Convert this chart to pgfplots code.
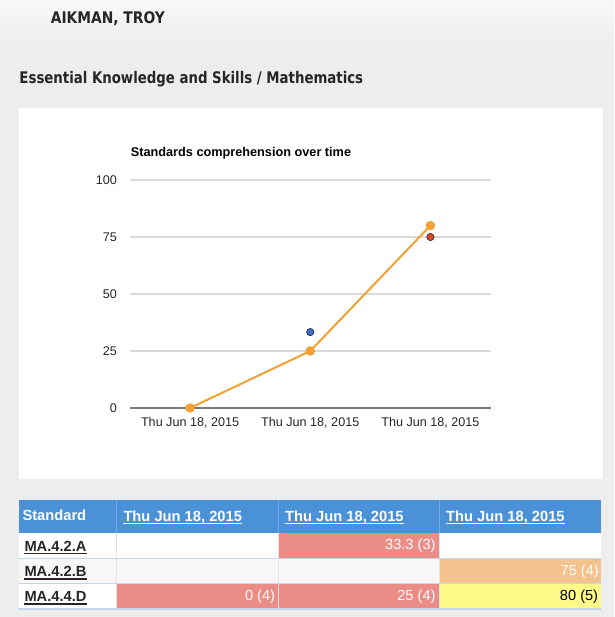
\documentclass[border=0pt]{standalone}
\usepackage{fontspec}
\setmainfont{Liberation Sans}
\newfontfamily\hdfont{DejaVu Sans Condensed}
\usepackage{pgfplots}
\pgfplotsset{compat=1.18}
\definecolor{pagebg}{HTML}{EDEDED}
\definecolor{pagetop}{HTML}{F9F9F9}
\definecolor{hdtext}{HTML}{262626}
\definecolor{gridc}{HTML}{DADADA}
\definecolor{zeroc}{HTML}{7A7A7A}
\definecolor{labc}{HTML}{262626}
\definecolor{sblue}{HTML}{3B6FCF}
\definecolor{sred}{HTML}{D4472A}
\definecolor{sorange}{HTML}{F2A134}
\definecolor{thead}{HTML}{4A91D8}
\definecolor{theadsep}{HTML}{73AAE6}
\definecolor{rowsep}{HTML}{C4D7EC}
\definecolor{rowalt}{HTML}{F7F7F7}
\definecolor{csalmon}{HTML}{EB8C87}
\definecolor{ctan}{HTML}{F4C38D}
\definecolor{cyellow}{HTML}{FFFB8A}
\definecolor{cellsep}{HTML}{E6E6E6}
\begin{document}
\begin{tikzpicture}[x=1pt,y=1pt]
% page background
\fill[pagebg] (0,0) rectangle (614,-617);
\shade[top color=pagetop, bottom color=pagebg] (0,0) rectangle (614,-45);
\useasboundingbox (0,0) rectangle (614,-617);
% page headings
\node[anchor=base west, inner sep=0, text=hdtext, xscale=0.96, font=\hdfont\bfseries\fontsize{16}{19}\selectfont] at (50.7,-24) {AIKMAN, TROY};
\node[anchor=base west, inner sep=0, text=hdtext, xscale=0.925, font=\hdfont\bfseries\fontsize{16}{19}\selectfont] at (19.3,-83.3) {Essential Knowledge and Skills / Mathematics};
% white chart panel
\fill[white] (19,-107.7) rectangle (602.7,-479);
\node[anchor=base west, inner sep=0, font=\bfseries\fontsize{12.7}{15}\selectfont] at (130.7,-157) {Standards comprehension over time};
\begin{axis}[
  at={(130pt,-408pt)}, anchor=south west,
  scale only axis, width=360.5pt, height=228pt,
  xmin=-0.5, xmax=2.5, ymin=0, ymax=100,
  axis line style={draw=none},
  major tick length=0pt,
  xtick={0,1,2},
  xticklabels={{Thu Jun 18, 2015},{Thu Jun 18, 2015},{Thu Jun 18, 2015}},
  ytick={25,50,75,100},
  extra y ticks={0},
  extra y tick style={major grid style={draw=zeroc, line width=1.3pt}},
  ymajorgrids,
  major grid style={draw=gridc, line width=1.1pt},
  /pgf/number format/assume math mode=true,
  ticklabel style={font=\fontsize{12.6}{15}\selectfont, text=labc},
  yticklabel style={inner sep=0pt, anchor=east, xshift=-13pt},
  xticklabel style={inner sep=0pt, anchor=north, yshift=-9.5pt},
  clip=false,
]
\addplot[only marks, mark=*, mark size=3.7pt, mark options={fill=sblue, draw=none}] coordinates {(1,33.3)};
\addplot[only marks, mark=*, mark size=3.7pt, mark options={fill=sred, draw=none}] coordinates {(2,75)};
\addplot[sorange, line width=2pt, mark=*, mark size=3.7pt, mark options={fill=sorange, draw=none}] coordinates {(0,0) (1,25) (2,80)};
\end{axis}
% table
\fill[thead] (19,-500) rectangle (601.3,-532.7);
\foreach \xx in {116.7,278.3,439.3} \draw[theadsep, line width=1pt] (\xx,-500) -- (\xx,-532.7);
\fill[white] (19,-532.7) rectangle (601.3,-558.3);
\fill[rowalt] (19,-558.3) rectangle (601.3,-583.3);
\fill[white] (19,-583.3) rectangle (601.3,-609);
\foreach \xx in {116.7,278.3,439.3} \draw[cellsep, line width=0.8pt] (\xx,-532.7) -- (\xx,-609);
% coloured cells
\fill[csalmon] (278.8,-533.2) rectangle (438.8,-557.6);
\fill[ctan] (439.8,-558.9) rectangle (601.3,-582.6);
\fill[csalmon] (117.2,-583.9) rectangle (277.8,-608.4);
\fill[csalmon] (278.8,-583.9) rectangle (438.8,-608.4);
\fill[cyellow] (439.8,-583.9) rectangle (601.3,-608.4);
\foreach \yy in {558.3,583.3,609} \draw[rowsep, line width=1.3pt] (19,-\yy) -- (601.3,-\yy);
% header texts
\tikzset{th/.style={anchor=base west, inner sep=0, text=white, font=\bfseries\fontsize{14.7}{17}\selectfont}}
\node[th] at (22.3,-520.5) {Standard};
\node[th] (h1) at (123.3,-521) {Thu Jun 18, 2015};
\node[th] (h2) at (285,-521) {Thu Jun 18, 2015};
\node[th] (h3) at (446,-521) {Thu Jun 18, 2015};
\foreach \h in {h1,h2,h3} \draw[white, line width=1.2pt] ([yshift=-2.2pt]\h.base west) -- ([yshift=-2.2pt]\h.base east);
% row labels
\tikzset{rl/.style={anchor=base west, inner sep=0, text=black!85, font=\bfseries\fontsize{14.7}{17}\selectfont}}
\node[rl] (r1) at (24.3,-551) {MA.4.2.A};
\node[rl] (r2) at (24.3,-576.7) {MA.4.2.B};
\node[rl] (r3) at (24.3,-601.7) {MA.4.4.D};
\foreach \r in {r1,r2,r3} \draw[black!85, line width=1.2pt] ([yshift=-2.2pt]\r.base west) -- ([yshift=-2.2pt]\r.base east);
% values
\tikzset{cv/.style={anchor=base east, inner sep=0, font=\fontsize{14.6}{17}\selectfont}}
\node[cv, text=white] at (435.7,-549.5) {33.3 (3)};
\node[cv, text=white] at (599,-575) {75 (4)};
\node[cv, text=white] at (275.3,-600.5) {0 (4)};
\node[cv, text=white] at (435.7,-600.5) {25 (4)};
\node[cv, text=black] at (598.3,-600.5) {80 (5)};
\end{tikzpicture}
\end{document}
